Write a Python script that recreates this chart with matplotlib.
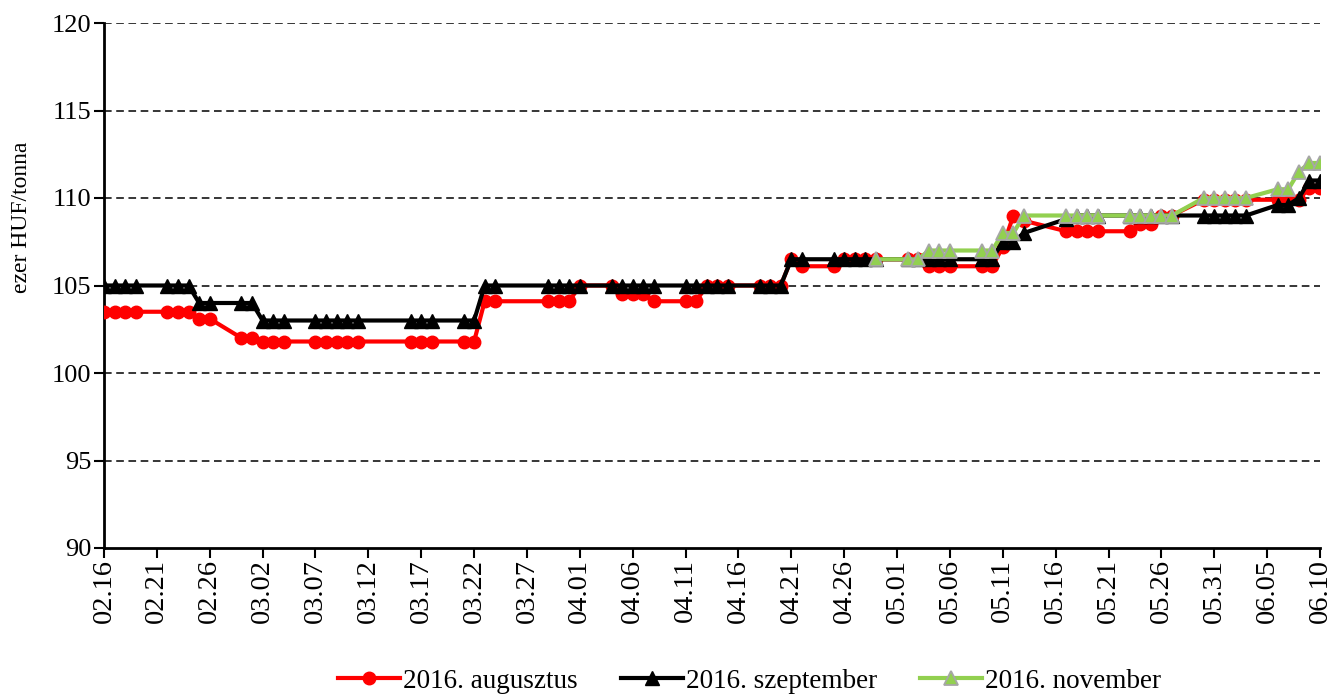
import pandas as pd
import matplotlib
matplotlib.use("Agg")
import matplotlib.pyplot as plt
import matplotlib.dates as mdates

plt.rcParams['font.family'] = ['Liberation Serif', 'DejaVu Serif']

# kereskedési napok (augusztus és szeptember lejárat)
napok = ['02.16', '02.17', '02.18', '02.19', '02.22', '02.23', '02.24', '02.25', '02.26', '02.29',
         '03.01', '03.02', '03.03', '03.04', '03.07', '03.08', '03.09', '03.10', '03.11',
         '03.16', '03.17', '03.18', '03.21', '03.22', '03.23', '03.24', '03.29', '03.30', '03.31',
         '04.01', '04.04', '04.05', '04.06', '04.07', '04.08', '04.11', '04.12', '04.13', '04.14',
         '04.15', '04.18', '04.19', '04.20', '04.21', '04.22', '04.25', '04.26', '04.27', '04.28',
         '04.29', '05.02', '05.03', '05.04', '05.05', '05.06', '05.09', '05.10', '05.11', '05.12',
         '05.13', '05.17', '05.18', '05.19', '05.20', '05.23', '05.24', '05.25', '05.26', '05.27',
         '05.30', '05.31', '06.01', '06.02', '06.03', '06.06', '06.07', '06.08', '06.09', '06.10']

augusztus = [103.5, 103.5, 103.5, 103.5, 103.5, 103.5, 103.5, 103.1, 103.1, 102.0,
             102.0, 101.8, 101.8, 101.8, 101.8, 101.8, 101.8, 101.8, 101.8,
             101.8, 101.8, 101.8, 101.8, 101.8, 104.1, 104.1, 104.1, 104.1, 104.1,
             105.0, 105.0, 104.5, 104.5, 104.5, 104.1, 104.1, 104.1, 105.0, 105.0,
             105.0, 105.0, 105.0, 105.0, 106.5, 106.1, 106.1, 106.5, 106.5, 106.5,
             106.5, 106.5, 106.5, 106.1, 106.1, 106.1, 106.1, 106.1, 107.2, 109.0,
             108.7, 108.1, 108.1, 108.1, 108.1, 108.1, 108.5, 108.5, 109.0, 109.0,
             109.9, 109.9, 109.9, 109.9, 109.9, 109.9, 109.9, 109.9, 110.6, 110.6]

szeptember = [105.0, 105.0, 105.0, 105.0, 105.0, 105.0, 105.0, 104.0, 104.0, 104.0,
              104.0, 103.0, 103.0, 103.0, 103.0, 103.0, 103.0, 103.0, 103.0,
              103.0, 103.0, 103.0, 103.0, 103.0, 105.0, 105.0, 105.0, 105.0, 105.0,
              105.0, 105.0, 105.0, 105.0, 105.0, 105.0, 105.0, 105.0, 105.0, 105.0,
              105.0, 105.0, 105.0, 105.0, 106.5, 106.5, 106.5, 106.5, 106.5, 106.5,
              106.5, 106.5, 106.5, 106.5, 106.5, 106.5, 106.5, 106.5, 107.5, 107.5,
              108.0, 108.8, 109.0, 109.0, 109.0, 109.0, 109.0, 109.0, 109.0, 109.0,
              109.0, 109.0, 109.0, 109.0, 109.0, 109.6, 109.6, 110.0, 111.0, 111.0]

# novemberi lejárat csak április végétől
napok_nov = ['04.29', '05.02', '05.03', '05.04', '05.05', '05.06', '05.09', '05.10', '05.11', '05.12',
             '05.13', '05.17', '05.18', '05.19', '05.20', '05.23', '05.24', '05.25', '05.26', '05.27',
             '05.30', '05.31', '06.01', '06.02', '06.03', '06.06', '06.07', '06.08', '06.09', '06.10']
november = [106.5, 106.5, 106.5, 107.0, 107.0, 107.0, 107.0, 107.0, 108.0, 108.0,
            109.0, 109.0, 109.0, 109.0, 109.0, 109.0, 109.0, 109.0, 109.0, 109.0,
            110.0, 110.0, 110.0, 110.0, 110.0, 110.5, 110.5, 111.5, 112.0, 112.0]

d1 = pd.to_datetime(['2016.' + n for n in napok], format='%Y.%m.%d')
d2 = pd.to_datetime(['2016.' + n for n in napok_nov], format='%Y.%m.%d')

fig = plt.figure(figsize=(13.31, 6.94), dpi=100)
ax = fig.add_axes([104 / 1331, 1 - 548 / 694, 1216 / 1331, 525 / 694])

ax.plot(d1, augusztus, color='#FF0000', lw=3, marker='o', ms=9, mec='#FF0000', label='2016. augusztus', zorder=3)
ax.plot(d1, szeptember, color='black', lw=3, marker='^', ms=10, mec='black', label='2016. szeptember', zorder=4)
ax.plot(d2, november, color='#92D050', lw=3, marker='^', ms=10.5, mfc='#92D050', mec='#A6A6A6', mew=1.3,
        label='2016. november', zorder=5)

ax.set_xlim(pd.Timestamp('2016-02-16'), pd.Timestamp('2016-06-10'))
ax.set_ylim(90, 120)
ax.set_yticks(range(90, 121, 5))
ax.set_xticks(pd.date_range('2016-02-16', '2016-06-10', freq='5D'))
ax.xaxis.set_major_formatter(mdates.DateFormatter('%m.%d'))
ax.tick_params(axis='x', rotation=90, labelsize=20.5, length=7, width=1.5, direction='out', pad=1)
ax.tick_params(axis='y', labelsize=19, length=7, width=1.5, direction='out', pad=2)

for y in range(95, 121, 5):
    ax.axhline(y, color='black', lw=1.1, ls=(0, (5, 3)), zorder=1)

for s in ['top', 'right']:
    ax.spines[s].set_visible(False)
for s in ['left', 'bottom']:
    ax.spines[s].set_linewidth(2)

ax.set_ylabel('ezer HUF/tonna', fontsize=17)
ax.yaxis.set_label_coords(-0.059, 0.63)

fig.legend(loc='lower center', bbox_to_anchor=(0.563, -0.035), ncol=3, frameon=False, fontsize=19.5,
           handlelength=2.3, handletextpad=0.1, columnspacing=1.6)

fig.savefig('out.png', dpi=100)
